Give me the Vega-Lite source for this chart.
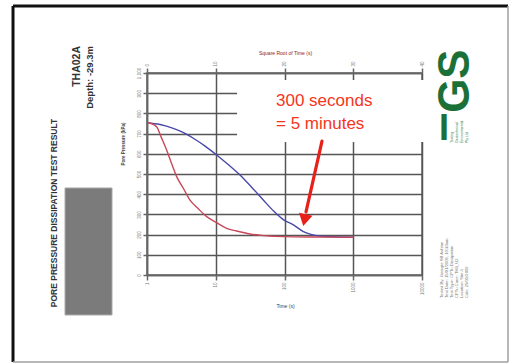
{
  "$schema": "https://vega.github.io/schema/vega-lite/v6.json",
  "width": 275,
  "height": 202,
  "autosize": {"type": "none"},
  "padding": {"left": 147, "top": 73, "right": 92, "bottom": 89},
  "background": "white",
  "config": {
    "view": {"stroke": "#6a6a6a", "strokeWidth": 1.5},
    "font": "Liberation Sans",
    "axis": {"labelFont": "Liberation Sans", "titleFont": "Liberation Sans"}
  },
  "datasets": {
    "curves": [
      {"series": "Series 1", "t": 1, "p": 754},
      {"series": "Series 1", "t": 1.55, "p": 745},
      {"series": "Series 1", "t": 2.41, "p": 726},
      {"series": "Series 1", "t": 3.4, "p": 705},
      {"series": "Series 1", "t": 4.72, "p": 677},
      {"series": "Series 1", "t": 7, "p": 638},
      {"series": "Series 1", "t": 10.3, "p": 594},
      {"series": "Series 1", "t": 15, "p": 548},
      {"series": "Series 1", "t": 22.5, "p": 495},
      {"series": "Series 1", "t": 33, "p": 436},
      {"series": "Series 1", "t": 49.2, "p": 371},
      {"series": "Series 1", "t": 70, "p": 315},
      {"series": "Series 1", "t": 96, "p": 274},
      {"series": "Series 1", "t": 135, "p": 248},
      {"series": "Series 1", "t": 188, "p": 215},
      {"series": "Series 1", "t": 250, "p": 200},
      {"series": "Series 1", "t": 328, "p": 193},
      {"series": "Series 1", "t": 500, "p": 189},
      {"series": "Series 1", "t": 1000, "p": 187},
      {"series": "Series 2", "t": 1, "p": 754},
      {"series": "Series 2", "t": 1.15, "p": 750},
      {"series": "Series 2", "t": 1.38, "p": 734},
      {"series": "Series 2", "t": 1.62, "p": 680},
      {"series": "Series 2", "t": 1.93, "p": 619},
      {"series": "Series 2", "t": 2.3, "p": 548},
      {"series": "Series 2", "t": 2.7, "p": 487},
      {"series": "Series 2", "t": 3.4, "p": 427},
      {"series": "Series 2", "t": 4.22, "p": 371},
      {"series": "Series 2", "t": 5.5, "p": 330},
      {"series": "Series 2", "t": 7.38, "p": 289},
      {"series": "Series 2", "t": 10, "p": 262},
      {"series": "Series 2", "t": 14.4, "p": 231},
      {"series": "Series 2", "t": 20, "p": 218},
      {"series": "Series 2", "t": 31.5, "p": 203},
      {"series": "Series 2", "t": 50, "p": 195},
      {"series": "Series 2", "t": 96, "p": 190},
      {"series": "Series 2", "t": 300, "p": 188},
      {"series": "Series 2", "t": 1000, "p": 187}
    ],
    "box": [{"t": 20.4, "t2": 11000, "p": 965, "p2": 658}],
    "note": [
      {"label": "300 seconds", "t": 75.2, "p": 837},
      {"label": "= 5 minutes", "t": 75.2, "p": 723}
    ],
    "arrow": [{"t": 351, "p": 663}, {"t": 205.5, "p": 312}],
    "arrowhead": [{"t": 195.4, "p": 272}],
    "frameDark": [
      {"t": 0.01125, "t2": 0.01125, "p": -431, "p2": 1331.7},
      {"t": 0.01125, "t2": 178200, "p": 1331.7, "p2": 1331.7}
    ],
    "frameLight": [
      {"t": 178200, "t2": 178200, "p": -431, "p2": 1331.7},
      {"t": 0.01125, "t2": 178200, "p": -431, "p2": -431}
    ],
    "graybox": [{"t": 0.0642, "t2": 0.3097, "p": 430.7, "p2": -198}],
    "title": [{"label": "PORE PRESSURE DISSIPATION TEST RESULT", "t": 0.0444, "p": 307}],
    "site": [{"label": "THA02A", "t": 0.0959, "p": 1133.7}],
    "depth": [{"label": "Depth: -29.3m", "t": 0.148, "p": 1133.7}],
    "logo": [{"label": "GS", "t": 48270, "p": 960}],
    "logoI": [{"label": "I", "t": 20893, "p": 668.3}],
    "logoSmall": [
      {"label": "Testing", "t": 27320, "p": 653.5},
      {"label": "Geotechnical", "t": 32280, "p": 653.5},
      {"label": "Environmental", "t": 38190, "p": 653.5},
      {"label": "Pty Ltd", "t": 45130, "p": 653.5}
    ],
    "address": [
      {"label": "Tested By: Georgie SB Ashton", "t": 19540, "p": -114},
      {"label": "Test Date: 15/01/2009, 10:30am", "t": 23100, "p": -114},
      {"label": "Test Type: CPTu Dissipation", "t": 27320, "p": -114},
      {"label": "CPTu Cone: TH3_U2", "t": 32280, "p": -114},
      {"label": "Location: Site 4", "t": 38190, "p": -114},
      {"label": "Calc: 25/01/2009", "t": 45130, "p": -114}
    ],
    "topaxis": [{"s": 0}, {"s": 40}]
  },
  "layer": [
    {
      "encoding": {
        "x": {
          "field": "t", "type": "quantitative",
          "scale": {"type": "log", "domain": [1, 10000], "nice": false},
          "axis": {
            "orient": "bottom", "title": "Time (s)", "values": [1, 10, 100, 1000, 10000],
            "format": "d", "grid": true, "gridColor": "#555555", "gridWidth": 1.5, "gridOpacity": 1,
            "domainColor": "#666666", "domainWidth": 1.5, "tickColor": "#666666", "tickWidth": 1.5,
            "tickSize": 5, "labelAngle": 270, "labelAlign": "right", "labelBaseline": "middle",
            "labelFontSize": 4.5, "labelColor": "#777777", "labelPadding": 2,
            "titleFontSize": 5, "titleColor": "#2c3e66", "titleFontWeight": "normal",
            "titleX": 138, "titleY": 30, "titleAlign": "center", "titleBaseline": "middle",
            "zindex": 0
          }
        },
        "y": {
          "field": "p", "type": "quantitative",
          "scale": {"domain": [0, 1000], "nice": false, "zero": false},
          "axis": {
            "orient": "left", "title": "Pore Pressure (kPa)",
            "values": [0, 100, 200, 300, 400, 500, 600, 700, 800, 900, 1000],
            "grid": true, "gridColor": "#555555", "gridWidth": 1.5, "gridOpacity": 1,
            "domainColor": "#666666", "domainWidth": 1.5, "tickColor": "#666666", "tickWidth": 1.5,
            "tickSize": 4, "labelAngle": 270, "labelAlign": "center", "labelBaseline": "bottom",
            "labelFontSize": 4.5, "labelColor": "#777777", "labelPadding": 2, "labelOverlap": false,
            "titleFontSize": 4.5, "titleColor": "#444444", "titleFontWeight": "bold",
            "titleAngle": 270, "titleX": -23.5, "titleY": 70.5, "titleAlign": "center", "titleBaseline": "middle",
            "zindex": 0
          }
        }
      },
      "layer": [
        {
          "data": {"name": "curves"},
          "mark": {"type": "line", "interpolate": "monotone", "strokeWidth": 1.4, "clip": false},
          "encoding": {
            "color": {
              "field": "series", "type": "nominal",
              "scale": {"domain": ["Series 1", "Series 2"], "range": ["#4848a8", "#c8485a"]},
              "legend": null
            },
            "order": {"field": "t", "type": "quantitative"}
          }
        },
        {
          "data": {"name": "box"},
          "mark": {"type": "rect", "fill": "white", "clip": false},
          "encoding": {"x2": {"field": "t2"}, "y2": {"field": "p2"}}
        },
        {
          "data": {"name": "note"},
          "mark": {"type": "text", "align": "left", "baseline": "alphabetic", "fontSize": 17, "font": "Liberation Sans", "color": "#f4361c", "clip": false},
          "encoding": {"text": {"field": "label"}}
        },
        {
          "data": {"name": "arrow"},
          "mark": {"type": "line", "color": "#e8201a", "strokeWidth": 3.2, "strokeCap": "round", "clip": false},
          "encoding": {}
        },
        {
          "data": {"name": "arrowhead"},
          "mark": {"type": "point", "shape": "triangle-down", "filled": true, "size": 190, "angle": 12, "color": "#e8201a", "opacity": 1, "clip": false},
          "encoding": {}
        },
        {
          "data": {"name": "frameDark"},
          "mark": {"type": "rule", "color": "#111111", "strokeWidth": 3, "clip": false},
          "encoding": {"x2": {"field": "t2"}, "y2": {"field": "p2"}}
        },
        {
          "data": {"name": "frameLight"},
          "mark": {"type": "rule", "color": "#a0a0a0", "strokeWidth": 1.5, "clip": false},
          "encoding": {"x2": {"field": "t2"}, "y2": {"field": "p2"}}
        },
        {
          "data": {"name": "graybox"},
          "mark": {"type": "rect", "fill": "#7b7b7b", "stroke": "#a8a8a8", "strokeWidth": 1, "clip": false},
          "encoding": {"x2": {"field": "t2"}, "y2": {"field": "p2"}}
        },
        {
          "data": {"name": "title"},
          "mark": {"type": "text", "angle": 270, "align": "center", "baseline": "middle", "fontSize": 8.5, "fontWeight": "bold", "color": "#333333", "clip": false},
          "encoding": {"text": {"field": "label"}}
        },
        {
          "data": {"name": "site"},
          "mark": {"type": "text", "angle": 270, "align": "right", "baseline": "middle", "fontSize": 10.5, "fontWeight": "bold", "color": "#333333", "clip": false},
          "encoding": {"text": {"field": "label"}}
        },
        {
          "data": {"name": "depth"},
          "mark": {"type": "text", "angle": 270, "align": "right", "baseline": "middle", "fontSize": 9.5, "fontWeight": "bold", "color": "#333333", "clip": false},
          "encoding": {"text": {"field": "label"}}
        },
        {
          "data": {"name": "logo"},
          "mark": {"type": "text", "angle": 270, "align": "center", "baseline": "alphabetic", "fontSize": 44, "fontWeight": "bold", "color": "#1b7038", "clip": false},
          "encoding": {"text": {"field": "label"}}
        },
        {
          "data": {"name": "logoI"},
          "mark": {"type": "text", "align": "center", "baseline": "alphabetic", "fontSize": 36, "fontWeight": "bold", "color": "#1b7038", "clip": false},
          "encoding": {"text": {"field": "label"}}
        },
        {
          "data": {"name": "logoSmall"},
          "mark": {"type": "text", "angle": 270, "align": "left", "baseline": "middle", "fontSize": 3.5, "color": "#2a7a45", "clip": false},
          "encoding": {"text": {"field": "label"}}
        },
        {
          "data": {"name": "address"},
          "mark": {"type": "text", "angle": 270, "align": "left", "baseline": "middle", "fontSize": 4.2, "color": "#777777", "clip": false},
          "encoding": {"text": {"field": "label"}}
        }
      ]
    },
    {
      "data": {"name": "topaxis"},
      "mark": {"type": "point", "opacity": 0},
      "encoding": {
        "x": {
          "field": "s", "type": "quantitative",
          "scale": {"domain": [0, 40], "nice": false, "zero": false},
          "axis": {
            "orient": "top", "title": "Square Root of Time (s)", "values": [0, 10, 20, 30, 40],
            "grid": false, "domainColor": "#666666", "domainWidth": 1.5, "tickColor": "#666666", "tickWidth": 1.5,
            "tickSize": 5, "labelAngle": 270, "labelAlign": "left", "labelBaseline": "middle",
            "labelFontSize": 4.5, "labelColor": "#777777", "labelPadding": 2,
            "titleFontSize": 5, "titleColor": "#8b1c2c", "titleFontWeight": "normal",
            "titleX": 138, "titleY": -21, "titleAlign": "center", "titleBaseline": "middle",
            "zindex": 0
          }
        }
      }
    }
  ],
  "resolve": {"scale": {"x": "independent"}}
}
